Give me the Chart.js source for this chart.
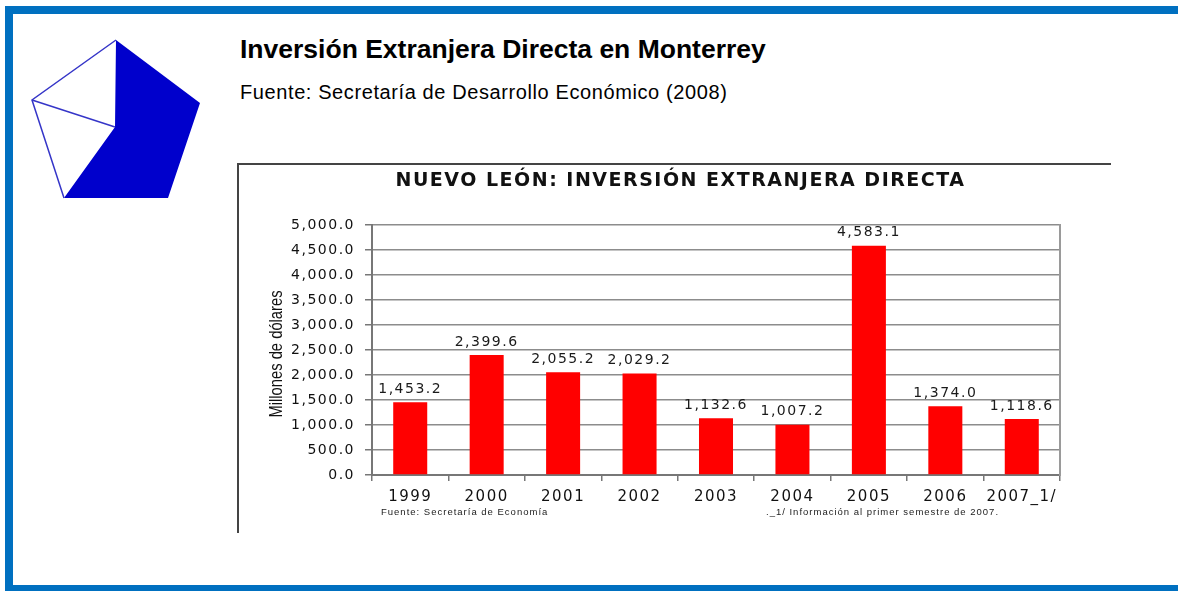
<!DOCTYPE html>
<html>
<head>
<meta charset="utf-8">
<script src="https://cdn.jsdelivr.net/npm/chart.js"></script>
<style>
body{margin:0;background:#fff;width:1178px;height:591px;overflow:hidden;position:relative;font-family:'Liberation Sans',Arial,sans-serif;color:#000}
#frame{position:absolute;left:5px;top:6px;width:1200px;height:585px;box-sizing:border-box;border-top:8px solid #0070c0;border-left:8px solid #0070c0;border-bottom:6px solid #0070c0}
#logo{position:absolute;left:0;top:0}
h1{position:absolute;left:240px;top:36px;margin:0;font-size:26.5px;line-height:26.5px;font-weight:bold}
#sub{position:absolute;left:240px;top:82px;font-size:20px;line-height:20px;letter-spacing:0.6px}
#box{position:absolute;left:237px;top:163px;width:874px;height:370px;box-sizing:border-box;border-top:2px solid #444;border-left:2px solid #444}
#chart{position:absolute;left:239px;top:165px}
</style>
</head>
<body>
<div id="frame"></div>
<svg id="logo" width="210" height="200">
  <polygon points="116,40 200,103 168,198 64,198 115,127" fill="#0000cc"/>
  <polyline points="116,40 32,100 64,198" fill="none" stroke="#3535c8" stroke-width="1.5"/>
  <line x1="32" y1="100" x2="115" y2="127" stroke="#3535c8" stroke-width="1.5"/>
</svg>
<h1>Inversión Extranjera Directa en Monterrey</h1>
<div id="sub">Fuente: Secretaría de Desarrollo Económico (2008)</div>
<div id="box"></div>
<canvas id="chart" width="870" height="366"></canvas>
<script>
const years = ['1999', '2000', '2001', '2002', '2003', '2004', '2005', '2006', '2007_1/'];
const inversion = [1453.2, 2399.6, 2055.2, 2029.2, 1132.6, 1007.2, 4583.1, 1374.0, 1118.6];
const yMin = 0, yMax = 5000, yStep = 500;
const chartTitle = 'NUEVO LEÓN: INVERSIÓN EXTRANJERA DIRECTA';
const yTitle = 'Millones de dólares';
const notes = ['Fuente: Secretaría de Economía', '._1/ Información al primer semestre de 2007.'];

const fmt = v => v.toLocaleString('en-US', {minimumFractionDigits: 1, maximumFractionDigits: 1});

// the old excel picture has very wide text, fake it with letter spacing
const spacing = {
    id: 'spacing',
    beforeUpdate(chart) { chart.ctx.letterSpacing = '1.5px'; },
    beforeDraw(chart) { chart.ctx.letterSpacing = '1.5px'; }
};

const valueLabels = {
    id: 'valueLabels',
    afterDatasetsDraw(chart) {
        const ctx = chart.ctx;
        ctx.save();
        ctx.font = '14px "DejaVu Sans"';
        ctx.fillStyle = '#1a1a1a';
        ctx.textAlign = 'center';
        ctx.textBaseline = 'middle';
        ctx.letterSpacing = '1.5px';
        chart.getDatasetMeta(0).data.forEach((bar, i) => {
            ctx.fillText(fmt(inversion[i]), bar.x, bar.y - 13);
        });
        ctx.restore();
    }
};

// axis title + footnotes; the axis title is condensed like the original narrow font
const extraText = {
    id: 'extraText',
    afterDraw(chart) {
        const {ctx, chartArea} = chart;
        ctx.save();
        ctx.letterSpacing = '0px';
        ctx.translate(43, (chartArea.top + chartArea.bottom) / 2 + 4);
        ctx.rotate(-Math.PI / 2);
        ctx.scale(0.82, 1);
        ctx.font = '18px "Liberation Sans"';
        ctx.fillStyle = '#111';
        ctx.textAlign = 'center';
        ctx.textBaseline = 'alphabetic';
        ctx.fillText(yTitle, 0, 0);
        ctx.restore();

        ctx.save();
        ctx.font = '9.5px "Liberation Sans"';
        ctx.fillStyle = '#222';
        ctx.textBaseline = 'middle';
        ctx.letterSpacing = '1px';
        ctx.fillText(notes[0], chartArea.left + 9, chartArea.bottom + 37);
        ctx.fillText(notes[1], chartArea.left + 394, chartArea.bottom + 37);
        ctx.restore();
    }
};

new Chart(document.getElementById('chart').getContext('2d'), {
    type: 'bar',
    data: {
        labels: years,
        datasets: [{
            data: inversion,
            backgroundColor: '#ff0000',
            barPercentage: 0.445,
            categoryPercentage: 1
        }]
    },
    options: {
        responsive: false,
        animation: false,
        layout: {padding: {left: 13, right: 0, top: 0, bottom: 0}},
        plugins: {
            legend: {display: false},
            tooltip: {enabled: false},
            title: {
                display: true,
                text: chartTitle,
                color: '#111',
                font: {family: 'DejaVu Sans', size: 19, weight: 'bold', lineHeight: 1.2},
                padding: {top: 4.6, bottom: 32.6}
            }
        },
        scales: {
            x: {
                grid: {offset: true, drawOnChartArea: false, tickLength: 6, color: '#777', lineWidth: 1.5},
                border: {color: '#777', width: 2},
                ticks: {color: '#111', font: {family: 'DejaVu Sans', size: 15}, padding: 7, maxRotation: 0, autoSkip: false},
                afterFit(s) { s.height = 56; }
            },
            y: {
                min: yMin,
                max: yMax,
                ticks: {stepSize: yStep, callback: v => fmt(v), color: '#111', font: {family: 'DejaVu Sans', size: 14}, padding: 10},
                grid: {color: '#8c8c8c', lineWidth: 1.5, tickLength: 7, tickColor: '#777'},
                border: {color: '#777', width: 2},
                afterFit(s) { s.width = 120; }
            },
            y2: {
                type: 'linear',
                position: 'right',
                min: yMin,
                max: yMax,
                ticks: {display: false},
                grid: {display: false},
                border: {color: '#9a9a9a', width: 2},
                afterFit(s) { s.width = 49; }
            }
        }
    },
    plugins: [spacing, valueLabels, extraText]
});
</script>
</body>
</html>
